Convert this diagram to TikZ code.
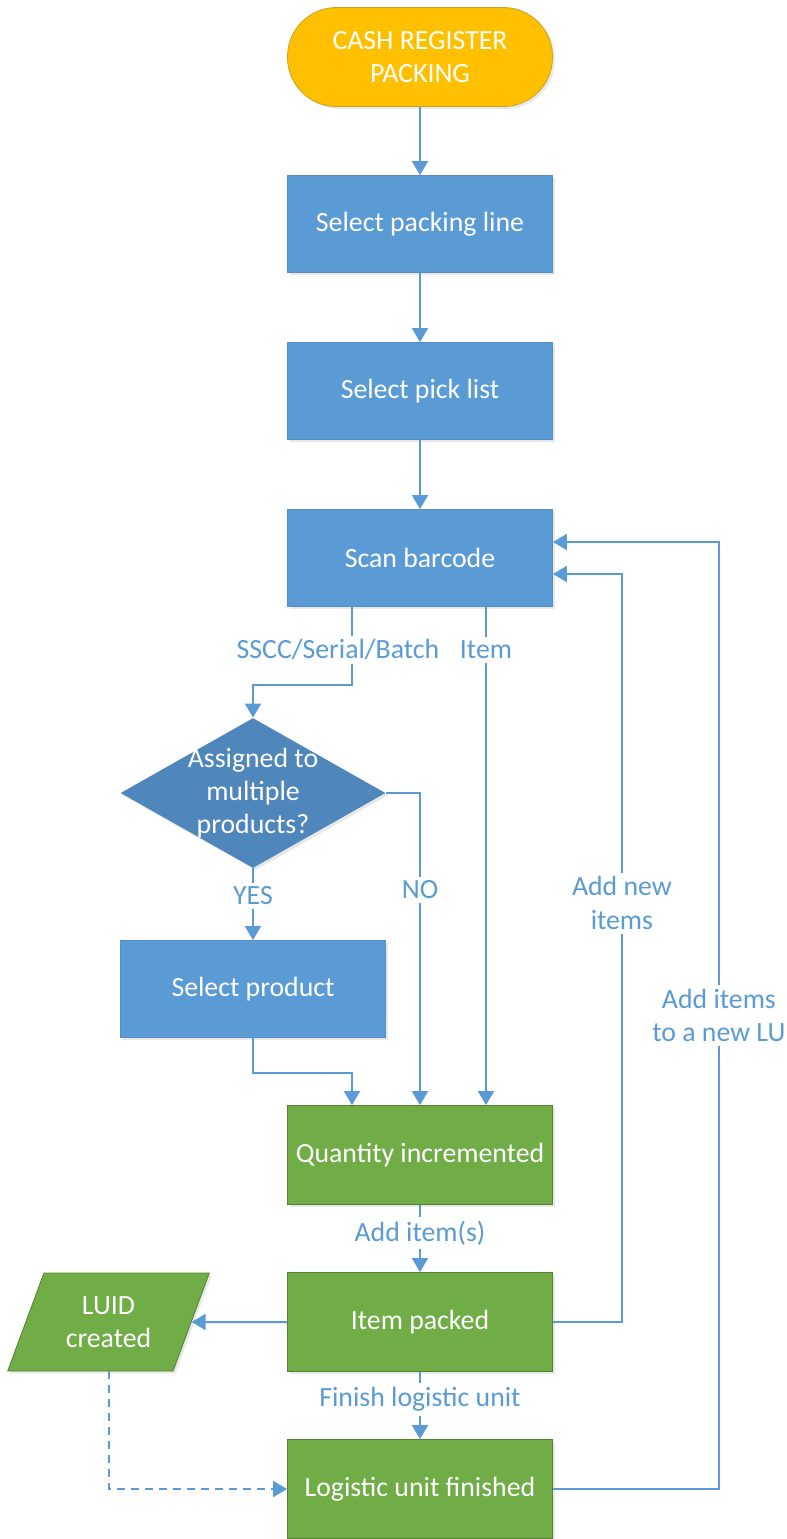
\documentclass[tikz,border=0pt]{standalone}
\usepackage{fontspec}
\setmainfont{Carlito}
\usetikzlibrary{shapes.geometric,arrows.meta,positioning,shadows}
\definecolor{gold}{HTML}{FFC000}
\definecolor{golddark}{HTML}{C9A227}
\definecolor{boxblue}{HTML}{5B9BD5}
\definecolor{diablue}{HTML}{4F86BB}
\definecolor{boxgreen}{HTML}{70AD47}
\definecolor{greendark}{HTML}{548235}
\definecolor{lineblue}{HTML}{5B9BD5}
\tikzstyle{shdw} = [drop shadow={shadow xshift=1.2pt, shadow yshift=-1.2pt, opacity=0.18}]
\tikzstyle{startstop} = [rectangle, rounded corners=24.5pt, minimum width=132.5pt, minimum height=49.5pt, fill=gold, draw=golddark, text=white, align=center, shdw]
\tikzstyle{process} = [rectangle, minimum width=132.5pt, minimum height=48.5pt, fill=boxblue, draw=boxblue!92!black, text=white, align=center, shdw]
\tikzstyle{done} = [rectangle, minimum width=132.5pt, minimum height=49.5pt, fill=boxgreen, draw=greendark, text=white, align=center, shdw]
\tikzstyle{decision} = [diamond, minimum width=132.5pt, minimum height=75pt, inner sep=0pt, fill=diablue, shdw]
\tikzstyle{io} = [trapezium, trapezium left angle=65, trapezium right angle=115, trapezium stretches=true, minimum width=101.5pt, minimum height=49pt, inner sep=0pt, fill=boxgreen, draw=greendark, text=white, align=center, shdw]
\tikzstyle{arrow} = [line width=1pt, draw=lineblue, -{Triangle[width=8pt,length=7pt]}]
\tikzstyle{lbl} = [fill=white, text=lineblue, inner sep=2pt, align=center]
\begin{document}
\begin{tikzpicture}[x=0.5pt, y=-0.5pt, node distance=83.5pt, every node/.style={font=\fontsize{13.9}{16.7}\selectfont}]
    \useasboundingbox (0,0) rectangle (787,1539);

    \node (1) [startstop] at (420,57) {CASH REGISTER\\PACKING};
    \node (2) [process, below of=1] {Select packing line};
    \node (3) [process, below of=2] {Select pick list};
    \node (4) [process, below of=3] {Scan barcode};
    \node (5) [decision, label={[text=white, align=center]center:{Assigned to\\multiple\\products?}}] at (253,793) {};
    \node (6) [process, below of=5, node distance=98pt] {Select product};
    \node (7) [done, below of=4, node distance=298.5pt] {Quantity incremented};
    \node (8) [done, below of=7] {Item packed};
    \node (9) [io, left of=8, node distance=155.75pt] {LUID\\created};
    \node (10) [done, below of=8] {Logistic unit finished};

    \draw [arrow] (1) -- (2);
    \draw [arrow] (2) -- (3);
    \draw [arrow] (3) -- (4);
    \draw [arrow] ([xshift=-34pt]4.south) -- node[lbl, pos=0.55, xshift=-7pt] {SSCC/Serial/Batch} ++(0,78) -| (5.north);
    \draw [arrow] ([xshift=33pt]4.south) -- node[lbl, pos=0.086] {Item} ([xshift=33pt]7.north);
    \draw [arrow] (5.east) -| node[lbl, pos=0.655] {NO} (7.north);
    \draw [arrow] (5.south) -- node[lbl, pos=0.38] {YES} (6.north);
    \draw [arrow] (6.south) -- ++(0,35) -| ([xshift=-34pt]7.north);
    \draw [arrow] (7) -- node[lbl, pos=0.42] {Add item(s)} (8);
    \draw [arrow] (8) -- (9);
    \draw [arrow] (8) -- node[lbl, pos=0.41] {Finish logistic unit} (10);
    \draw [arrow, dash pattern=on 4pt off 3pt] (9 |- 9.south) |- (10.west);
    \draw [arrow] (8.east) -- ++(69,0) |- node[lbl, pos=0.28] {Add new\\items} ([yshift=-8pt]4.east);
    \draw [arrow] (10.east) -- ++(166,0) |- node[lbl, pos=0.25] {Add items\\to a new LU} ([yshift=8pt]4.east);
\end{tikzpicture}
\end{document}
